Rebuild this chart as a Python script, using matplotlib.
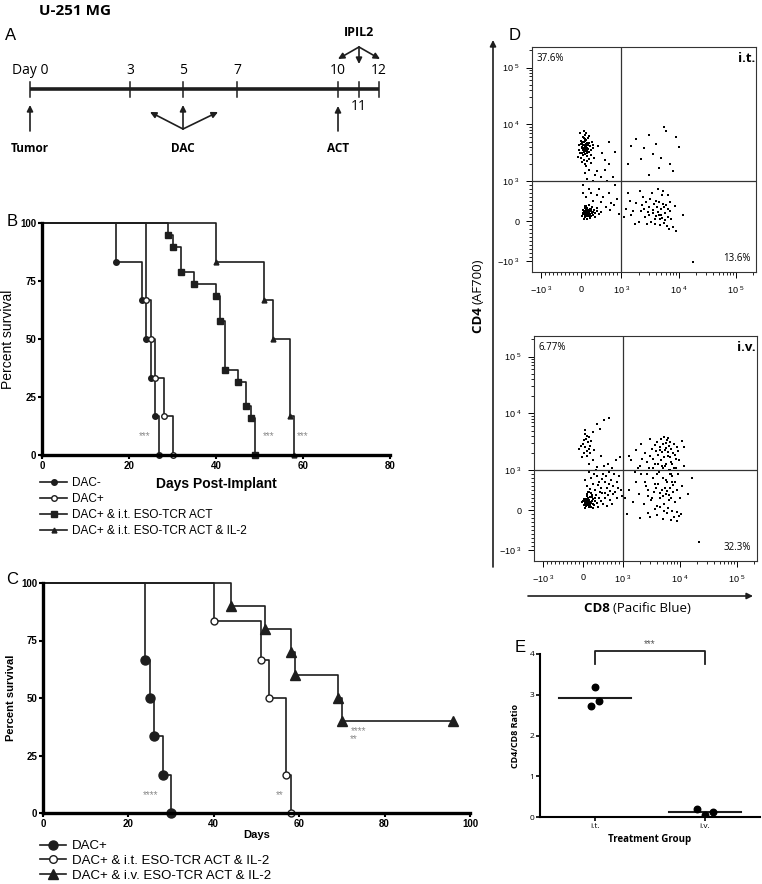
'''
Recreation of the U-251 MG figure: timeline, survival curves, flow plots and CD4/CD8 ratio.
'''
import numpy as np
import matplotlib
matplotlib.use('Agg')
import matplotlib.pyplot as plt
from matplotlib.lines import Line2D
from matplotlib.ticker import FixedLocator, NullFormatter

W, H = 762, 884
LINE = '#1e1e1e'
ARIAL = 'Liberation Sans'
MYRIAD = 'Open Sans'

plt.rcParams['font.family'] = ARIAL
plt.rcParams['mathtext.fontset'] = 'custom'
plt.rcParams['mathtext.rm'] = MYRIAD
plt.rcParams['mathtext.default'] = 'regular'

# ---- panel A: treatment timeline ----
tl_labels = ['Day 0', '3', '5', '7', '10', '11', '12']

# ---- panel B: survival, days post-implant ----
b_dacneg_days = [17, 23, 24, 25, 26, 27]
b_dacneg_surv = [83.3, 66.7, 50, 33.3, 16.7, 0]
b_dacpos_days = [24, 25, 26, 28, 30]
b_dacpos_surv = [66.7, 50, 33.3, 16.7, 0]
b_act_days = [29, 30, 32, 35, 40, 41, 42, 45, 47, 48, 49]
b_act_surv = [94.7, 89.5, 78.9, 73.7, 68.4, 57.9, 36.8, 31.6, 21.1, 15.8, 0]
b_il2_days = [40, 51, 53, 57, 58]
b_il2_surv = [83.3, 66.7, 50, 16.7, 0]
b_labels = ['DAC-', 'DAC+', 'DAC+ & i.t. ESO-TCR ACT', 'DAC+ & i.t. ESO-TCR ACT & IL-2']
b_stars = [(23.7, 8, '***'), (52, 8, '***'), (60, 8, '***')]

# ---- panel C: survival ----
c_dac_days = [24, 25, 26, 28, 30]
c_dac_surv = [66.7, 50, 33.3, 16.7, 0]
c_it_days = [40, 51, 53, 57, 58]
c_it_surv = [83.3, 66.7, 50, 16.7, 0]
c_iv_days = [44, 52, 58, 59, 69, 70, 96]
c_iv_surv = [90, 80, 70, 60, 50, 40, 40]
c_labels = ['DAC+', 'DAC+ & i.t. ESO-TCR ACT & IL-2', 'DAC+ & i.v. ESO-TCR ACT & IL-2']
c_stars = [(25.3, 8, '****'), (55.5, 8, '**'), (73.8, 35.6, '****'), (72.8, 32, '**')]

# ---- panel D: flow events (CD8, CD4) ----
it_events = [
    # CD4+ cluster
    (-40, 3200), (20, 4100), (60, 3600), (110, 4500), (150, 3900), (-10, 5200), (80, 5600), (130, 3100),
    (190, 4800), (40, 2900), (100, 3400), (170, 3700), (-60, 4300), (10, 3800), (70, 4900), (120, 5300),
    (210, 4200), (30, 6100), (90, 6600), (-20, 2600), (140, 2800), (60, 2400), (180, 3300), (230, 3600),
    (0, 4600), (50, 4400), (160, 5800), (110, 7000), (-30, 7200), (70, 7600), (200, 2500), (20, 2200),
    (90, 2000), (150, 2300), (250, 2900), (280, 3800), (40, 5000), (130, 4700), (-50, 3600), (80, 4100),
    (100, 3900), (60, 3300), (120, 3600), (35, 3500), (75, 4300), (10, 3100), (160, 4400), (95, 5100),
    (55, 5800), (180, 6300), (260, 5000), (300, 4300), (230, 2100), (120, 1900), (-70, 2700), (15, 4800),
    (145, 3450), (85, 3050), (105, 4250), (65, 3850),
    # double negative cluster
    (50, 200), (100, 250), (150, 180), (200, 230), (120, 300), (80, 150), (180, 280), (140, 210),
    (220, 170), (60, 260), (110, 190), (160, 240), (190, 140), (90, 320), (130, 160), (170, 200),
    (240, 260), (70, 220), (210, 310), (150, 130), (30, 180), (100, 100), (260, 200), (120, 230),
    (140, 270), (180, 220), (200, 190), (90, 210), (160, 160), (230, 300), (40, 280), (280, 240),
    (300, 160), (320, 280), (350, 200), (250, 120), (110, 370), (190, 400), (60, 60), (20, 120),
    (400, 250), (450, 180), (380, 330), (500, 220), (130, 60), (210, 90), (330, 110), (270, 350),
    (150, 340), (80, 390), (170, 250), (125, 205), (145, 225), (105, 215), (185, 185), (135, 245),
    (155, 195), (115, 265), (175, 170), (95, 240),
    # between
    (50, 900), (150, 1100), (250, 700), (350, 1300), (450, 800), (550, 600), (650, 1000), (120, 600),
    (300, 500), (400, 1500), (200, 1600), (80, 1400), (500, 1200), (600, 1600), (700, 700), (750, 450),
    (800, 1200), (850, 900), (30, 700), (180, 800), (280, 1000), (380, 650), (480, 480), (580, 2400),
    (680, 2000), (520, 3200), (420, 4200), (320, 2600), (700, 5000), (850, 3300), (900, 550), (620, 350),
    (720, 280), (820, 400), (950, 180),
    # CD8+ cluster
    (1200, 300), (1500, 150), (1800, 450), (2200, 250), (2600, 100), (3000, 350), (3500, 200), (4000, 500),
    (4500, 150), (5000, 300), (5500, -50), (6000, 400), (6500, 100), (7000, 250), (8000, -150), (2000, -20),
    (2400, 600), (2800, -80), (3200, 550), (3800, 50), (4200, 350), (4800, -100), (5200, 650), (5800, 200),
    (6800, -200), (1400, 500), (1700, -60), (2300, 400), (2900, 220), (3300, -10), (3700, 420), (4100, 120),
    (4600, 480), (5100, 80), (5600, 360), (6200, -120), (7200, 480), (1300, 700), (2100, 750), (3400, 720),
    (4400, 800), (5400, 760), (6400, 650), (2500, 300), (3100, 150), (3600, 280), (4300, 230), (4900, 160),
    (5300, 420), (5900, 20), (9000, -250), (1600, 260), (2700, 480), (3900, -60), (4700, 60), (1100, 100),
    (6600, 300), (7500, 50), (12000, 150), (8500, 380),
    # double positive, sparse
    (1800, 5500), (2500, 3800), (3000, 6500), (4000, 4500), (6000, 7800), (9000, 6000), (1500, 4200),
    (2200, 2500), (3500, 3000), (5000, 2600), (7000, 2000), (8000, 1500), (4500, 1700), (1300, 2000),
    (3000, 1300), (10000, 4000), (5500, 9000), (18000, -1050),
]
iv_events = [
    # CD4+ group
    (50, 2600), (120, 3100), (0, 2900), (80, 3600), (150, 2400), (30, 2000), (100, 1800), (200, 3300),
    (-60, 2700), (60, 4300), (140, 3800), (20, 3400), (90, 2200), (170, 2700), (250, 4700), (-30, 1700),
    (110, 4000), (180, 2000), (40, 5100), (350, 6400), (650, 8200), (520, 7600), (420, 5300), (280, 2300),
    (-100, 2400),
    # double negative cluster
    (50, 150), (100, 200), (150, 250), (80, 100), (200, 180), (120, 300), (60, 220), (180, 120),
    (140, 170), (30, 280), (220, 240), (90, 160), (160, 210), (110, 130), (70, 270), (190, 200),
    (130, 230), (40, 190), (250, 150), (170, 320), (20, 120), (210, 90), (100, 350), (260, 280),
    (-20, 200), (140, 80), (300, 230), (60, 60), (230, 330), (120, 180), (350, 180), (400, 300),
    (330, 380), (280, 120), (450, 230), (380, 90), (200, 420), (150, 450), (90, 400), (500, 160),
    (550, 300), (600, 100), (480, 420), (620, 380), (680, 250), (720, 150), (10, 240), (240, 60),
    (310, 310), (160, 140), (135, 195), (105, 225), (85, 205), (175, 165), (115, 245),
    # between
    (100, 600), (200, 800), (300, 500), (400, 700), (500, 900), (600, 550), (700, 750), (800, 450),
    (900, 850), (150, 950), (250, 650), (350, 850), (450, 550), (550, 700), (650, 950), (750, 600),
    (850, 700), (950, 500), (50, 750), (180, 520), (280, 900), (380, 620), (480, 780), (580, 850),
    (680, 480), (780, 900), (880, 550), (120, 450), (320, 1000), (420, 450), (520, 1200), (620, 1300),
    (720, 1100), (820, 1500), (920, 1700), (160, 1300), (260, 1500), (460, 1800), (360, 1150), (560, 420),
    (980, 350), (230, 380), (640, 650), (740, 400), (860, 300),
    # CD8+ cluster
    (1100, 300), (1300, 500), (1500, 200), (1700, 700), (1900, 400), (2100, 900), (2300, 150), (2500, 600),
    (2700, 350), (2900, 1100), (3100, 250), (3300, 800), (3500, 450), (3700, 1300), (3900, 100), (4100, 650),
    (4300, 950), (4500, 300), (4700, 1500), (4900, 500), (5100, 800), (5300, 150), (5500, 1200), (5700, 400),
    (5900, 700), (6100, 1800), (6300, 250), (6500, 1000), (6700, 550), (6900, 1400), (7100, 300), (7300, 850),
    (7500, 2000), (7700, 450), (7900, 1100), (8100, 200), (8300, 700), (8500, 1600), (8700, -50), (8900, 500),
    (9200, 900), (9600, -150), (10000, 300), (11000, 600), (12000, 1200), (14000, 400), (16000, 800),
    (1200, -100), (1600, 950), (2000, 1200), (2200, 1600), (2400, 2000), (2600, 1400), (2800, -60),
    (3000, 1800), (3200, 2400), (3400, 1600), (3600, 2800), (3800, 2200), (4000, 3200), (4200, 1900),
    (4400, 2600), (4600, 3500), (4800, 2100), (5000, 2900), (5200, 3800), (5400, 2300), (5600, 3000),
    (5800, 2500), (6000, 3400), (6200, 2100), (6400, 2700), (6600, 1700), (6800, 3100), (7000, 2400),
    (7400, 1300), (7800, 2900), (8200, 1900), (8800, 2600), (9400, 2200), (1400, 1500), (1800, 1100),
    (2600, 900), (3400, 1100), (4200, 1300), (5000, 1100), (5800, 1300), (6600, 900), (7400, 700),
    (8400, 1100), (2000, -200), (3000, -180), (4000, -120), (5000, -220), (6000, -80), (7000, -250),
    (8000, -180), (9000, -260), (10500, -100), (3600, 20), (4400, 80), (5200, -20), (6200, 60), (7200, -30),
    (2800, 500), (3600, 650), (4400, 420), (5400, 560), (6400, 380), (7600, 620), (3200, 300), (4000, 900),
    (4800, 1200), (5600, 750), (6800, 1000), (2400, 700), (3800, 550), (5000, 350), (6000, 480), (7000, 900),
    (1300, 1800), (1700, 2300), (2100, 2900), (9800, 1500), (12000, 2600), (11000, 3300), (3000, 3600),
    (6200, 3700), (4500, 2300), (5300, 1700), (22000, -800),
]
it_pcts = ['37.6%', '13.6%']
iv_pcts = ['6.77%', '32.3%']

# ---- panel E: CD4/CD8 ratio ----
e_groups = ['i.t.', 'i.v.']
e_it = [3.2, 2.73, 2.85]
e_iv = [0.19, 0.12, 0.06]

fig = plt.figure(figsize=(W / 100, H / 100), dpi=100)


def px_axes(left, top, right, bottom):
    ax = fig.add_axes([left / W, 1 - bottom / H, (right - left) / W, (bottom - top) / H])
    ax.patch.set_visible(False)
    return ax


def km_curve(ax, days, surv, marker, mfc, ms):
    ax.step([0] + days, [100] + surv, where='post', color=LINE, lw=1.2, clip_on=False)
    ax.plot(days, surv, ls='none', marker=marker, mfc=mfc, mec=LINE, mew=1.0,
            ms=ms, color=LINE, clip_on=False)


def style_km(ax, xmax):
    ax.set_xlim(0, xmax)
    ax.set_ylim(0, 100)
    for s in ['top', 'right']:
        ax.spines[s].set_visible(False)
    for s in ['left', 'bottom']:
        ax.spines[s].set_linewidth(2.4)
    ax.set_xticks(range(0, xmax + 1, 20))
    ax.set_yticks([0, 25, 50, 75, 100])
    ax.tick_params(length=3, width=1.5, labelsize=7, pad=1)
    for lab in ax.get_xticklabels() + ax.get_yticklabels():
        lab.set_fontweight('bold')


# panel B
ax_b = px_axes(42, 223, 390, 455)
km_curve(ax_b, b_dacneg_days, b_dacneg_surv, 'o', LINE, 4)
km_curve(ax_b, b_dacpos_days, b_dacpos_surv, 'o', 'white', 4)
km_curve(ax_b, b_act_days, b_act_surv, 's', LINE, 4)
km_curve(ax_b, b_il2_days, b_il2_surv, '^', LINE, 3.5)
style_km(ax_b, 80)
ax_b.set_ylabel('Percent survival', fontsize=10, labelpad=4)
ax_b.set_xlabel('Days Post-Implant', fontsize=10, fontweight='bold', labelpad=5)
for x, y, s in b_stars:
    ax_b.text(x, y, s, color='#8a8a8a', fontsize=7, ha='center', va='center')
b_handles = [Line2D([], [], color=LINE, lw=1.2, marker=m, mfc=f, mec=LINE, ms=ms)
             for m, f, ms in [('o', LINE, 4), ('o', 'white', 4), ('s', LINE, 4), ('^', LINE, 3.5)]]
fig.legend(b_handles, b_labels, loc='upper left', bbox_to_anchor=(40 / W, 1 - 477 / H),
           frameon=False, fontsize=8.5, handlelength=2.3, handletextpad=0.4,
           labelspacing=0.33, borderpad=0, borderaxespad=0)

# panel C
ax_c = px_axes(43, 583, 470, 813)
km_curve(ax_c, c_dac_days, c_dac_surv, 'o', LINE, 6.5)
km_curve(ax_c, c_it_days, c_it_surv, 'o', 'white', 5)
km_curve(ax_c, c_iv_days, c_iv_surv, '^', LINE, 7)
style_km(ax_c, 100)
ax_c.set_ylabel('Percent survival', fontsize=8, fontweight='bold', labelpad=4)
ax_c.set_xlabel('Days', fontsize=8, fontweight='bold', labelpad=1)
for x, y, s in c_stars:
    ax_c.text(x, y, s, color='#8a8a8a', fontsize=7, ha='center', va='center')
c_handles = [Line2D([], [], color=LINE, lw=1.2, marker=m, mfc=f, mec=LINE, ms=ms)
             for m, f, ms in [('o', LINE, 6.5), ('o', 'white', 5.5), ('^', LINE, 6.5)]]
fig.legend(c_handles, c_labels, loc='upper left', bbox_to_anchor=(40 / W, 1 - 840 / H),
           frameon=False, fontsize=9.5, handlelength=2.0, handletextpad=0.4,
           labelspacing=0.2, borderpad=0, borderaxespad=0)

# panel D: flow plots on a symlog (logicle-like) scale
major = [-1000, 0, 1000, 1e4, 1e5]
major_lab = [r'$-10^{\ 3}$', '0', r'$10^{\ 3}$', r'$10^{\ 4}$', r'$10^{\ 5}$']
minor = (list(range(-900, 0, 100)) + list(range(100, 1000, 100)) +
         list(range(2000, 10000, 1000)) + list(range(20000, 100000, 10000)) + [2e5])


def flow_plot(box, events, pcts, tag):
    ax = px_axes(*box)
    ev = np.array(events, dtype=float)
    ax.scatter(ev[:, 0], ev[:, 1], s=1.1, c='black', marker='s', linewidths=0)
    ax.set_xscale('symlog', linthresh=1000, linscale=0.63)
    ax.set_yscale('symlog', linthresh=1000, linscale=0.63)
    ax.set_xlim(-1450, 2.25e5)
    ax.set_ylim(-1560, 2.3e5)
    ax.axvline(1000, color='#333333', lw=0.9)
    ax.axhline(1000, color='#333333', lw=0.9)
    for axis in [ax.xaxis, ax.yaxis]:
        axis.set_major_locator(FixedLocator(major))
        axis.set_minor_locator(FixedLocator(minor))
        axis.set_minor_formatter(NullFormatter())
    ax.set_xticklabels(major_lab)
    ax.set_yticklabels(major_lab)
    ax.tick_params(which='major', length=4, width=0.7, labelsize=6.5, pad=5)
    ax.tick_params(which='minor', length=2.2, width=0.6)
    for s in ax.spines.values():
        s.set_linewidth(0.8)
        s.set_color('#333333')
    ax.text(0.02, 0.95, pcts[0], transform=ax.transAxes, fontsize=7, family=MYRIAD, va='center')
    ax.text(0.995, 0.95, tag, transform=ax.transAxes, fontsize=9.5, family=MYRIAD,
            fontweight='bold', ha='right', va='center')
    ax.text(0.975, 0.06, pcts[1], transform=ax.transAxes, fontsize=7, family=MYRIAD,
            ha='right', va='center')
    return ax


flow_plot((532, 47, 756, 272), it_events, it_pcts, 'i.t.')
flow_plot((534, 336, 757, 561), iv_events, iv_pcts, 'i.v.')

# panel E
ax_e = px_axes(540, 654, 760, 817)
it_jitter = [0.0, -0.04, 0.04]
iv_jitter = [-0.07, 0.07, 0.0]
ax_e.scatter([0 + j for j in it_jitter], e_it, s=22, c='black', zorder=3)
ax_e.scatter([1 + j for j in iv_jitter], e_iv, s=22, c='black', zorder=3)
for i, vals in enumerate([e_it, e_iv]):
    ax_e.plot([i - 0.33, i + 0.33], [np.mean(vals)] * 2, color=LINE, lw=1.5)
ax_e.plot([0, 0, 1, 1], [3.75, 4.07, 4.07, 3.75], color=LINE, lw=1.3, clip_on=False)
ax_e.text(0.5, 4.12, '***', ha='center', va='bottom', fontsize=7, color='#555555')
ax_e.set_xlim(-0.5, 1.5)
ax_e.set_ylim(0, 4)
ax_e.set_xticks([0, 1])
ax_e.set_xticklabels(e_groups, family=MYRIAD)
ax_e.set_yticks([0, 1, 2, 3, 4])
ax_e.set_yticklabels(['0', '1', '2', '3', '4'], family=MYRIAD)
ax_e.tick_params(length=3, width=1.2, labelsize=6, pad=1)
for s in ['top', 'right']:
    ax_e.spines[s].set_visible(False)
for s in ['left', 'bottom']:
    ax_e.spines[s].set_linewidth(1.5)
ax_e.set_ylabel('CD4/CD8 Ratio', fontsize=6.5, family=MYRIAD, fontweight='bold', labelpad=7)
ax_e.set_xlabel('Treatment Group', fontsize=7, family=MYRIAD, fontweight='bold', labelpad=3)

# overlay in pixel units for the schematic, arrows and panel letters
ov = fig.add_axes([0, 0, 1, 1])
ov.set_xlim(0, W)
ov.set_ylim(H, 0)
ov.axis('off')
ov.patch.set_visible(False)

tl_x = [30, 130, 183, 237, 338, 359, 379]
ov.plot([tl_x[0], tl_x[-1]], [89, 89], color=LINE, lw=2.6, solid_capstyle='butt')
for x, lab in zip(tl_x, tl_labels):
    ov.plot([x, x], [82, 97], color=LINE, lw=1.1)
    y = 106 if lab == '11' else 71
    ov.text(x, y, lab, ha='center', va='center', fontsize=10, family=MYRIAD)


def arrow(x0, y0, x1, y1):
    ov.annotate('', xy=(x1, y1), xytext=(x0, y0),
                arrowprops=dict(arrowstyle='-|>', color=LINE, lw=1.2, mutation_scale=9,
                                shrinkA=0, shrinkB=0))


arrow(30, 131, 30, 105)
arrow(183, 129, 150, 112)
arrow(183, 129, 183, 105)
arrow(183, 129, 218, 112)
arrow(338, 131, 338, 106)
arrow(359, 47, 338, 59)
arrow(359, 47, 359, 64)
arrow(359, 47, 380, 59)
for x, lab in [(30, 'Tumor'), (183, 'DAC'), (338, 'ACT')]:
    ov.text(x, 149, lab, ha='center', va='center', fontsize=8.5, family=MYRIAD, fontweight='bold')
ov.text(359, 33, 'IPIL2', ha='center', va='center', fontsize=9, family=MYRIAD, fontweight='bold')
ov.text(39, 11, 'U-251 MG', ha='left', va='center', fontsize=11, family=MYRIAD, fontweight='bold')

for x, y, lab in [(11, 36, 'A'), (12, 221, 'B'), (12, 579, 'C'), (515, 35, 'D'), (520, 648, 'E')]:
    ov.text(x, y, lab, ha='center', va='center', fontsize=12)

# flow axis arrows and labels
arrow(493, 567, 493, 40)
arrow(528, 596, 753, 596)
ov.text(478, 304, 'CD4 ', rotation=90, rotation_mode='anchor', ha='right', va='center',
        fontsize=9.5, family=MYRIAD, fontweight='bold')
ov.text(478, 304, '(AF700)', rotation=90, rotation_mode='anchor', ha='left', va='center',
        fontsize=9.5, family=MYRIAD)
ov.text(613, 608, 'CD8 ', ha='right', va='center', fontsize=9.5, family=MYRIAD, fontweight='bold')
ov.text(613, 608, '(Pacific Blue)', ha='left', va='center', fontsize=9.5, family=MYRIAD)

fig.savefig('out.png', dpi=100)
